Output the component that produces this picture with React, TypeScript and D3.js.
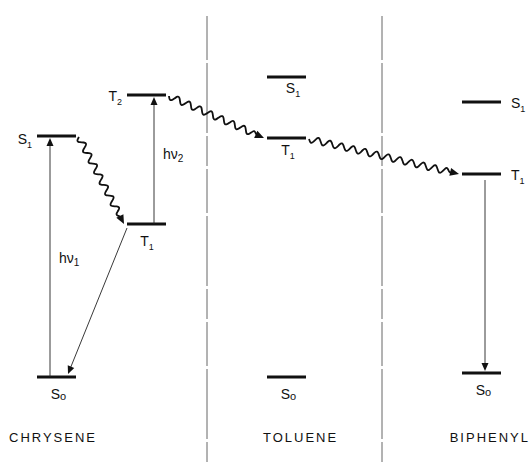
import * as d3 from "d3";
import { useEffect, useRef } from "react";

// energy levels (arbitrary units, S0 of chrysene = 0)
const molecules = ["CHRYSENE", "TOLUENE", "BIPHENYL"];
const levelStates = ["S0", "S1", "T1", "T2", "S0", "S1", "T1", "S0", "S1", "T1"];
const levelMolecule = [0, 0, 0, 0, 1, 1, 1, 2, 2, 2];
const levelEnergy = [0, 241, 153, 282, 0, 300, 239, 4, 275, 203];

// transitions: [from level index, to level index]
const radiative = [
  [0, 1], // hν1
  [2, 3], // hν2
  [2, 0], // phosphorescence chrysene
  [9, 7], // biphenyl T1 -> S0
];
const radiativeLabels = ["hν1", "hν2", "", ""];
const wavy = [
  [1, 2],
  [3, 6],
  [6, 9],
];

const W = 529;
const H = 462;
const FONT = "Liberation Sans, Arial, sans-serif";

export default function App() {
  const ref = useRef<SVGSVGElement | null>(null);

  useEffect(() => {
    if (!ref.current) return;
    const svg = d3.select(ref.current);
    svg.selectAll("*").remove();

    const y = d3.scaleLinear().domain([0, 300]).range([377, 77]);
    const col = d3.scaleOrdinal<number, number>().domain([0, 1, 2]).range([37, 267, 462]);
    const levelW = 39;
    // chrysene triplets sit in a second column
    const x0 = (i: number) =>
      col(levelMolecule[i]) + (levelMolecule[i] === 0 && levelStates[i][0] === "T" ? 90 : 0);

    const g = svg.append("g");

    // filled arrow head pointing along (ux, uy) with tip at (xb, yb)
    const head = (xb: number, yb: number, ux: number, uy: number, len: number, wid: number) => {
      const bx = xb - ux * len;
      const by = yb - uy * len;
      g.append("path")
        .attr(
          "d",
          `M${xb},${yb} L${bx - uy * wid},${by + ux * wid} L${bx + uy * wid},${by - ux * wid} Z`
        )
        .attr("fill", "#111");
    };

    // dividers
    [207, 382].forEach((xx) => {
      g.append("line")
        .attr("x1", xx)
        .attr("x2", xx)
        .attr("y1", 16)
        .attr("y2", H)
        .attr("stroke", "#666")
        .attr("stroke-width", 1)
        .attr("stroke-dasharray", "44 3 70 3 30 3");
    });

    // levels
    levelEnergy.forEach((e, i) => {
      const xs = x0(i);
      g.append("line")
        .attr("x1", xs)
        .attr("x2", xs + levelW)
        .attr("y1", y(e))
        .attr("y2", y(e))
        .attr("stroke", "#111")
        .attr("stroke-width", 3);
    });

    // level labels
    const labelPos = (i: number): [number, number, string] => {
      const m = levelMolecule[i];
      const s = levelStates[i];
      const xs = x0(i);
      const yy = y(levelEnergy[i]);
      if (m === 0 && s === "S1") return [xs - 5, yy + 8, "end"];
      if (m === 0 && s === "T2") return [xs - 5, yy + 6, "end"];
      if (m === 2 && s !== "S0") return [xs + levelW + 10, yy + 6, "start"];
      if (m === 1 && s === "S1") return [xs + 26, yy + 16, "middle"];
      if (m === 1 && s === "T1") return [xs + 21, yy + 17, "middle"];
      if (m === 0 && s === "T1") return [xs + 20, yy + 22, "middle"];
      return [xs + levelW / 2 + 2, yy + 22, "middle"];
    };

    levelStates.forEach((s, i) => {
      const [lx, ly, anchor] = labelPos(i);
      const t = g
        .append("text")
        .attr("x", lx)
        .attr("y", ly)
        .attr("text-anchor", anchor)
        .attr("font-family", FONT)
        .attr("font-size", 14)
        .attr("fill", "#111");
      t.append("tspan").text(s[0]);
      t.append("tspan")
        .attr("font-size", s[1] === "0" ? 11 : 9)
        .attr("dy", s[1] === "0" ? 1 : 4)
        .text(s[1] === "0" ? "o" : s[1]);
    });

    // straight radiative arrows
    radiative.forEach(([a, b], k) => {
      let xa: number, ya: number, xb: number, yb: number;
      if (k < 2) {
        const xx = k === 0 ? x0(b) + 13 : x0(b) + 27;
        xa = xx;
        xb = xx;
        ya = y(levelEnergy[a]);
        yb = y(levelEnergy[b]) + 2;
      } else if (k === 2) {
        xa = x0(a);
        ya = y(levelEnergy[a]) + 4;
        xb = x0(b) + 31;
        yb = y(levelEnergy[b]) - 3;
      } else {
        xa = x0(a) + 23;
        xb = xa;
        ya = y(levelEnergy[a]) + 6;
        yb = y(levelEnergy[b]) - 2;
      }
      const len = Math.hypot(xb - xa, yb - ya);
      const ux = (xb - xa) / len;
      const uy = (yb - ya) / len;
      g.append("line")
        .attr("x1", xa)
        .attr("y1", ya)
        .attr("x2", xb - ux * 6)
        .attr("y2", yb - uy * 6)
        .attr("stroke", "#222")
        .attr("stroke-width", 0.9);
      head(xb, yb, ux, uy, 8, 3.5);

      const lab = radiativeLabels[k];
      if (lab) {
        const t = g
          .append("text")
          .attr("x", xa + 9)
          .attr("y", (ya + yb) / 2 + (k === 0 ? 5 : -2))
          .attr("font-family", FONT)
          .attr("font-size", 14)
          .attr("fill", "#111");
        t.append("tspan").text(lab.slice(0, 2));
        t.append("tspan").attr("font-size", 10).attr("dy", 3).text(lab.slice(2));
      }
    });

    // wavy non-radiative transitions
    wavy.forEach(([a, b]) => {
      const xa = x0(a) + levelW + 3;
      const ya = y(levelEnergy[a]) + 1;
      const xb = x0(b) - 3;
      const yb = y(levelEnergy[b]);
      const dx = xb - xa;
      const dy = yb - ya;
      const len = Math.hypot(dx, dy);
      const ux = dx / len;
      const uy = dy / len;
      const amp = 3.3;
      const period = 12;
      const end = len - 7;
      const pts: [number, number][] = d3.range(0, Math.floor(end) + 1).map((s) => {
        const taper = Math.min(1, (end - s) / 6);
        const off = amp * Math.sin((2 * Math.PI * s) / period) * taper;
        return [xa + ux * s - uy * off, ya + uy * s + ux * off];
      });
      g.append("path")
        .attr("d", d3.line().curve(d3.curveBasis)(pts) ?? "")
        .attr("fill", "none")
        .attr("stroke", "#111")
        .attr("stroke-width", 1.8);
      head(xb, yb, ux, uy, 9, 4);
    });

    // molecule names
    molecules.forEach((m, i) => {
      g.append("text")
        .attr("x", [9, 263, 530][i])
        .attr("y", 442)
        .attr("text-anchor", i === 2 ? "end" : "start")
        .attr("font-family", FONT)
        .attr("font-size", 13)
        .attr("letter-spacing", 2)
        .attr("fill", "#111")
        .text(m);
    });
  }, []);

  return (
    <svg
      ref={ref}
      width={W}
      height={H}
      style={{ position: "absolute", left: 0, top: 0, background: "#fff" }}
    />
  );
}
